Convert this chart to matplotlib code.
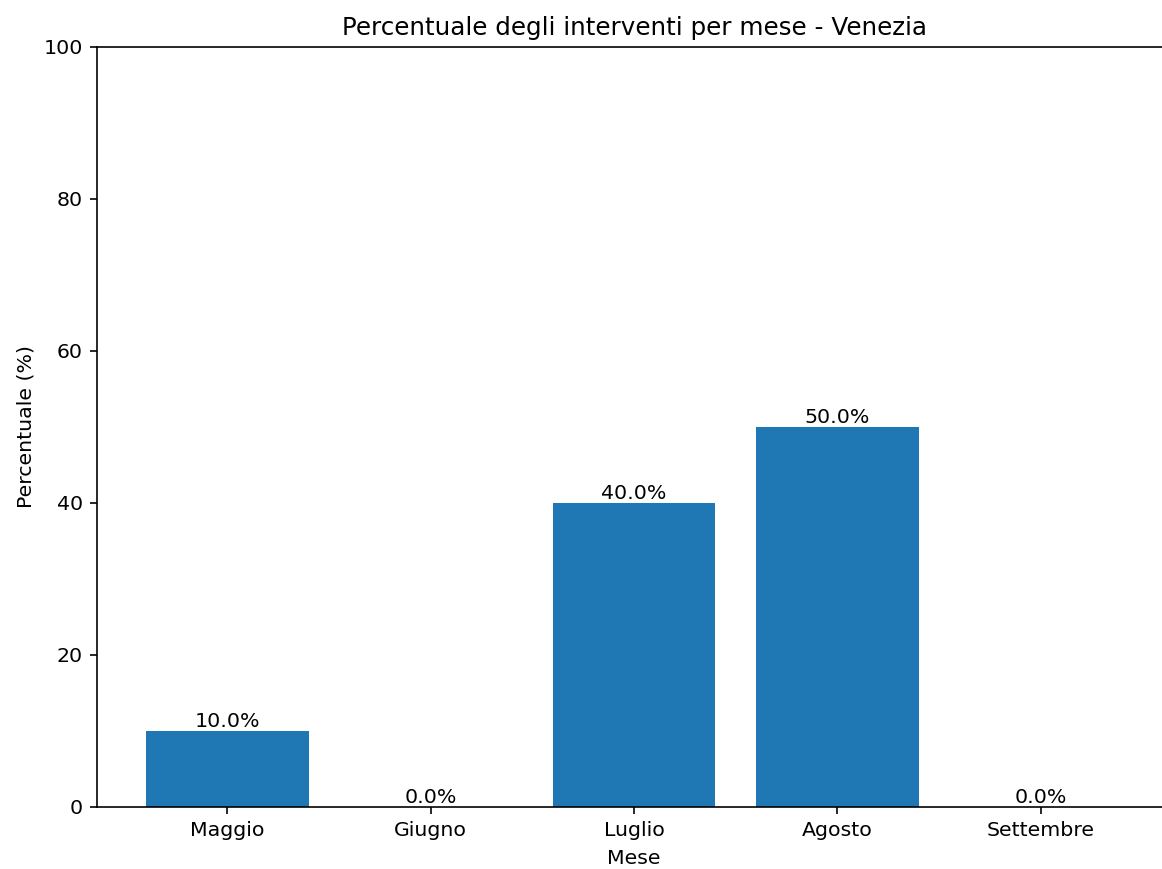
import matplotlib
matplotlib.use("Agg")
from matplotlib import pyplot as plt
import numpy as np

mesi = ['Maggio', 'Giugno', 'Luglio', 'Agosto', 'Settembre']
percentuali = [10.0, 0.0, 40.0, 50.0, 0.0]

W, H = 1162, 869
dpi = 147.6
fig = plt.figure(figsize=(W / dpi, H / dpi), dpi=dpi)
# the reference is cropped on the right: axes runs past the image edge
ax = fig.add_axes([97 / W, (H - 807) / H, (1171 - 97) / W, (807 - 47) / H])

bars = ax.bar(mesi, percentuali, color='#1f77b4')

# etichette sopra le barre
for bar, val in zip(bars, percentuali):
    ax.text(bar.get_x() + bar.get_width() / 2, bar.get_height(), f'{val:.1f}%',
            ha='center', va='bottom')

ax.set_ylim(0, 100)
ax.set_title('Percentuale degli interventi per mese - Venezia')
ax.set_xlabel('Mese')
ax.set_ylabel('Percentuale (%)')

plt.savefig('out.png', dpi=dpi)
